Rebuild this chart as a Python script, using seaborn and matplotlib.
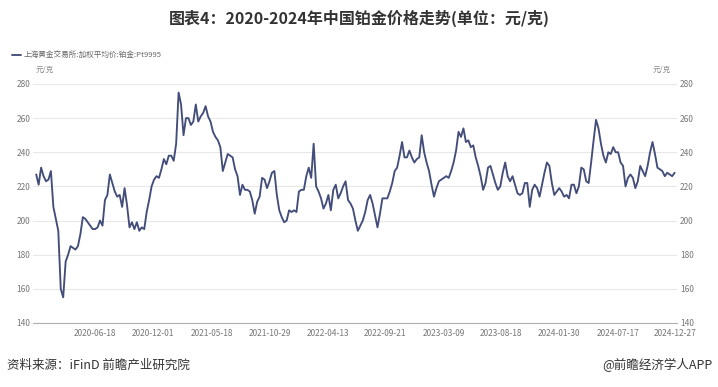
import numpy as np
import pandas as pd
import matplotlib
matplotlib.use("Agg")
import matplotlib.pyplot as plt
import seaborn as sns

# weekly readings of the Pt9995 weighted average price, yuan/gram
price = [
    227, 221, 231, 226, 223, 224, 229, 208, 201, 194,
    160, 155, 176, 180, 185, 184, 183, 185, 192, 202,
    201, 199, 197, 195, 195, 196, 200, 197, 212, 215,
    227, 222, 217, 214, 215, 208, 219, 209, 196, 199,
    195, 199, 194, 196, 195, 205, 212, 220, 224, 226,
    225, 230, 236, 233, 238, 238, 235, 245, 275, 268,
    250, 260, 260, 256, 258, 268, 258, 261, 263, 267,
    261, 258, 252, 249, 247, 243, 229, 234, 239, 238,
    237, 230, 226, 215, 221, 218, 218, 217, 212, 204,
    211, 214, 225, 224, 219, 223, 228, 229, 215, 206,
    202, 199, 200, 206, 205, 206, 205, 217, 218, 218,
    226, 231, 225, 245, 220, 217, 213, 207, 210, 215,
    206, 218, 221, 213, 216, 220, 223, 212, 210, 207,
    200, 194, 197, 200, 205, 212, 215, 210, 203, 196,
    204, 213, 213, 213, 217, 222, 229, 231, 238, 246,
    237, 237, 241, 237, 234, 236, 237, 250, 240, 234,
    229, 221, 214, 219, 223, 224, 225, 226, 225, 229,
    234, 241, 252, 249, 254, 246, 247, 243, 244, 237,
    232, 226, 218, 222, 231, 232, 227, 222, 218, 220,
    228, 234, 226, 223, 226, 221, 216, 215, 216, 222,
    222, 208, 218, 221, 219, 214, 221, 228, 234, 232,
    222, 215, 217, 219, 217, 214, 215, 213, 221, 221,
    216, 220, 231, 230, 223, 222, 234, 247, 259, 254,
    245, 238, 234, 240, 239, 243, 240, 240, 234, 232,
    220, 225, 227, 225, 219, 223, 232, 229, 226, 232,
    240, 246, 239, 231, 230, 229, 226, 228, 227, 226,
    228,
]
start_date = "2020-01-02"
tick_dates = ["2020-06-18", "2020-12-01", "2021-05-18", "2021-10-29",
              "2022-04-13", "2022-09-21", "2023-03-09", "2023-08-18",
              "2024-01-30", "2024-07-17", "2024-12-27"]
y_ticks = [140, 160, 180, 200, 220, 240, 260, 280]
series_name = "上海黄金交易所:加权平均价:铂金:Pt9995"

df = pd.DataFrame({
    "date": pd.date_range(start_date, periods=len(price), freq="7D"),
    "price": price,
})

sns.set_theme(style="white")
plt.rcParams["font.family"] = ["Noto Sans CJK SC", "DejaVu Sans"]

fig = plt.figure(figsize=(7.18, 3.87), dpi=100)
ax = fig.add_axes([0.046, 0.1654, 0.897, 0.6176])

sns.lineplot(data=df, x="date", y="price", ax=ax, color="#434d7a",
             linewidth=1.35, label=series_name)

ax.set_ylim(140, 280)
ax.set_xlim(pd.Timestamp(start_date) - pd.Timedelta(days=9),
            pd.Timestamp(tick_dates[-1]) + pd.Timedelta(days=6))
ax.set_yticks(y_ticks)
ax.set_xticks(pd.to_datetime(tick_dates))
ax.set_xticklabels(tick_dates)
ax.set_xlabel("")
ax.set_ylabel("")
ax.yaxis.grid(True, color="#e8e8e8", linewidth=0.8)
ax.xaxis.grid(False)
for s in ["top", "left", "right"]:
    ax.spines[s].set_visible(False)
ax.spines["bottom"].set_color("#b0b0b0")
ax.spines["bottom"].set_linewidth(0.8)
ax.tick_params(axis="y", length=0, pad=2, labelsize=6, labelcolor="#777777",
               labelright=True, labelleft=True)
ax.tick_params(axis="x", length=0, pad=4, labelsize=6, labelcolor="#777777")

leg = ax.legend(loc="upper left", bbox_to_anchor=(0.012, 0.875),
                bbox_transform=fig.transFigure, frameon=False, fontsize=5.5,
                handlelength=1.2, handletextpad=0.4, borderaxespad=0)
for t in leg.get_texts():
    t.set_color("#666666")

fig.text(0.049, 0.819, "元/克", fontsize=5.5, color="#888888", ha="left", va="center")
fig.text(0.934, 0.819, "元/克", fontsize=5.5, color="#888888", ha="right", va="center")

fig.text(0.5, 0.953, "图表4：2020-2024年中国铂金价格走势(单位：元/克)",
         fontsize=11.5, fontweight="bold", color="#333333", ha="center", va="center")
fig.text(0.01, 0.056, "资料来源：iFinD 前瞻产业研究院", fontsize=9,
         color="#333333", ha="left", va="center")
fig.text(0.993, 0.056, "@前瞻经济学人APP", fontsize=9,
         color="#333333", ha="right", va="center")

fig.savefig("out.png", dpi=100)
